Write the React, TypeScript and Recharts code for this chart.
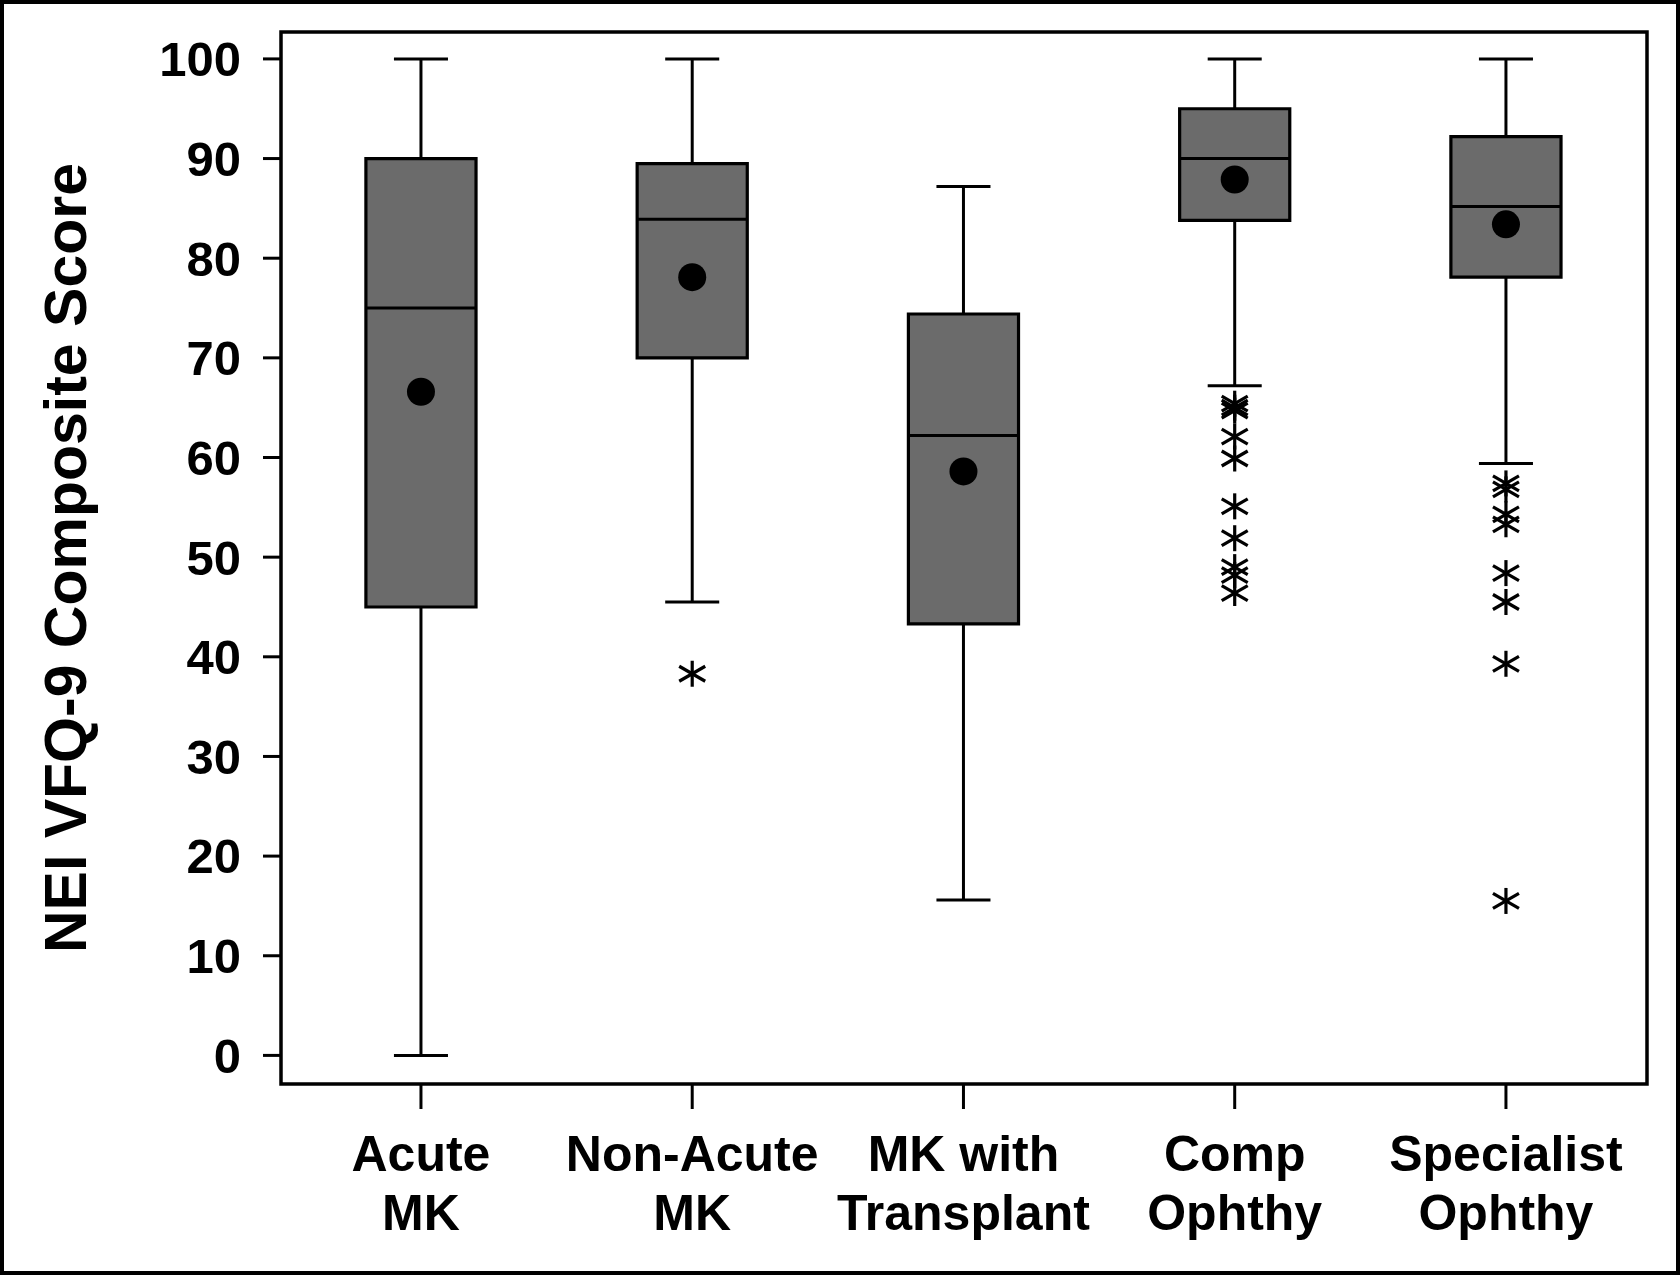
import React from 'react';
import { ComposedChart, XAxis, YAxis, Scatter, ReferenceArea, ReferenceLine } from 'recharts';

// ---- data ----
const CATEGORY_LINE1 = ['Acute', 'Non-Acute', 'MK with', 'Comp', 'Specialist'];
const CATEGORY_LINE2 = ['MK', 'MK', 'Transplant', 'Ophthy', 'Ophthy'];
const WHISKER_LOW = [0, 45.5, 15.6, 67.2, 59.4];
const Q1 = [45, 70, 43.3, 83.8, 78.1];
const MEDIAN = [75, 83.9, 62.2, 90, 85.2];
const Q3 = [90, 89.5, 74.4, 95, 92.2];
const WHISKER_HIGH = [100, 100, 87.2, 100, 100];
const MEAN = [66.6, 78.1, 58.6, 87.9, 83.4];
const OUTLIERS_ACUTE: number[] = [];
const OUTLIERS_NONACUTE = [38.3];
const OUTLIERS_TRANSPLANT: number[] = [];
const OUTLIERS_COMP = [65.4, 65.0, 64.7, 62.1, 59.9, 55.1, 51.9, 49.0, 48.2, 46.4];
const OUTLIERS_SPECIALIST = [57.4, 56.8, 54.3, 53.3, 48.4, 45.5, 39.3, 15.5];
const Y_TICKS = [0, 10, 20, 30, 40, 50, 60, 70, 80, 90, 100];
const X_TICKS = [0, 1, 2, 3, 4];
const Y_TITLE = 'NEI VFQ-9 Composite Score';

// ---- layout / style ----
const W = 1680;
const H = 1275;
const Y_DOMAIN: [number, number] = [-2.87, 102.7];
const X_DOMAIN: [number, number] = [-0.516, 4.52];
const BOX_HALF = 0.203;
const CAP_HALF = 0.0996;
const FONT = '"Liberation Sans", Arial, Helvetica, sans-serif';
const BOX_FILL = '#6b6b6b';
const LINE_W = 3;

const OUTLIER_GROUPS = [OUTLIERS_ACUTE, OUTLIERS_NONACUTE, OUTLIERS_TRANSPLANT, OUTLIERS_COMP, OUTLIERS_SPECIALIST];
const meanData = MEAN.map((y, i) => ({ x: i, y }));
const outlierData = OUTLIER_GROUPS.flatMap((g, i) => g.map((y) => ({ x: i, y })));

const XTick = (props: any) => {
  const { x, y, payload } = props;
  const i = Math.round(payload.value);
  return (
    <text x={x} y={y} textAnchor="middle" fontFamily={FONT} fontWeight="bold" fontSize={50} fill="#000">
      <tspan x={x} dy={60}>{CATEGORY_LINE1[i]}</tspan>
      <tspan x={x} dy={59}>{CATEGORY_LINE2[i]}</tspan>
    </text>
  );
};

const YTitle = (props: any) => {
  const vb = props.viewBox || { x: 0, y: 32, width: 281, height: 1052 };
  const cx = vb.x + 66;
  const cy = vb.y + vb.height / 2;
  return (
    <text
      x={cx}
      y={cy}
      transform={`rotate(-90 ${cx} ${cy})`}
      textAnchor="middle"
      dominantBaseline="central"
      fontFamily={FONT}
      fontWeight="bold"
      fontSize={59}
      fill="#000"
    >
      {Y_TITLE}
    </text>
  );
};

const MeanDot = (props: any) => {
  const { cx, cy } = props;
  return <circle cx={cx} cy={cy} r={14} fill="#000" />;
};

const Asterisk = (props: any) => {
  const { cx, cy } = props;
  const s = 13;
  const d = 7.5;
  return (
    <g stroke="#000" strokeWidth={3.2}>
      <line x1={cx} y1={cy - s} x2={cx} y2={cy + s} />
      <line x1={cx - s} y1={cy - d} x2={cx + s} y2={cy + d} />
      <line x1={cx - s} y1={cy + d} x2={cx + s} y2={cy - d} />
    </g>
  );
};

export default function App() {
  return (
    <div style={{ position: 'relative', width: W, height: H, background: '#fff' }}>
      <style>{'body{margin:0;background:#fff;}'}</style>
      <ComposedChart width={W} height={H} margin={{ top: 32, right: 33, bottom: 0, left: 0 }}>
        <XAxis
          type="number"
          dataKey="x"
          domain={X_DOMAIN}
          ticks={X_TICKS}
          interval={0}
          height={191}
          axisLine={false}
          tickLine={{ stroke: '#000', strokeWidth: 3 }}
          tickSize={25}
          tickMargin={2}
          tick={<XTick />}
          allowDataOverflow
        />
        <YAxis
          type="number"
          dataKey="y"
          domain={Y_DOMAIN}
          ticks={Y_TICKS}
          interval={0}
          width={281}
          axisLine={false}
          tickLine={{ stroke: '#000', strokeWidth: 3 }}
          tickSize={18}
          tickMargin={22}
          tick={{ fill: '#000', fontFamily: FONT, fontWeight: 'bold', fontSize: 49 }}
          label={<YTitle />}
          allowDataOverflow
        />
        {/* plot frame */}
        <ReferenceArea y1={Y_DOMAIN[0]} y2={Y_DOMAIN[1]} fill="none" fillOpacity={0} stroke="#000" strokeWidth={3.5} ifOverflow="visible" />
        {/* whiskers */}
        {Q1.map((q, i) => (
          <ReferenceLine key={`wl${i}`} segment={[{ x: i, y: q }, { x: i, y: WHISKER_LOW[i] }]} stroke="#000" strokeWidth={LINE_W} ifOverflow="visible" />
        ))}
        {Q3.map((q, i) => (
          <ReferenceLine key={`wh${i}`} segment={[{ x: i, y: q }, { x: i, y: WHISKER_HIGH[i] }]} stroke="#000" strokeWidth={LINE_W} ifOverflow="visible" />
        ))}
        {WHISKER_LOW.map((v, i) => (
          <ReferenceLine key={`cl${i}`} segment={[{ x: i - CAP_HALF, y: v }, { x: i + CAP_HALF, y: v }]} stroke="#000" strokeWidth={LINE_W} ifOverflow="visible" />
        ))}
        {WHISKER_HIGH.map((v, i) => (
          <ReferenceLine key={`ch${i}`} segment={[{ x: i - CAP_HALF, y: v }, { x: i + CAP_HALF, y: v }]} stroke="#000" strokeWidth={LINE_W} ifOverflow="visible" />
        ))}
        {/* boxes */}
        {Q1.map((q, i) => (
          <ReferenceArea
            key={`box${i}`}
            x1={i - BOX_HALF}
            x2={i + BOX_HALF}
            y1={q}
            y2={Q3[i]}
            fill={BOX_FILL}
            fillOpacity={1}
            stroke="#000"
            strokeWidth={3.2}
            ifOverflow="visible"
          />
        ))}
        {/* medians */}
        {MEDIAN.map((m, i) => (
          <ReferenceLine key={`med${i}`} segment={[{ x: i - BOX_HALF, y: m }, { x: i + BOX_HALF, y: m }]} stroke="#000" strokeWidth={LINE_W} ifOverflow="visible" />
        ))}
        <Scatter data={meanData} shape={<MeanDot />} isAnimationActive={false} />
        <Scatter data={outlierData} shape={<Asterisk />} isAnimationActive={false} />
      </ComposedChart>
      <div
        style={{
          position: 'absolute',
          left: 0,
          top: 0,
          width: W,
          height: H,
          border: '4px solid #000',
          boxSizing: 'border-box',
          pointerEvents: 'none',
        }}
      />
    </div>
  );
}
